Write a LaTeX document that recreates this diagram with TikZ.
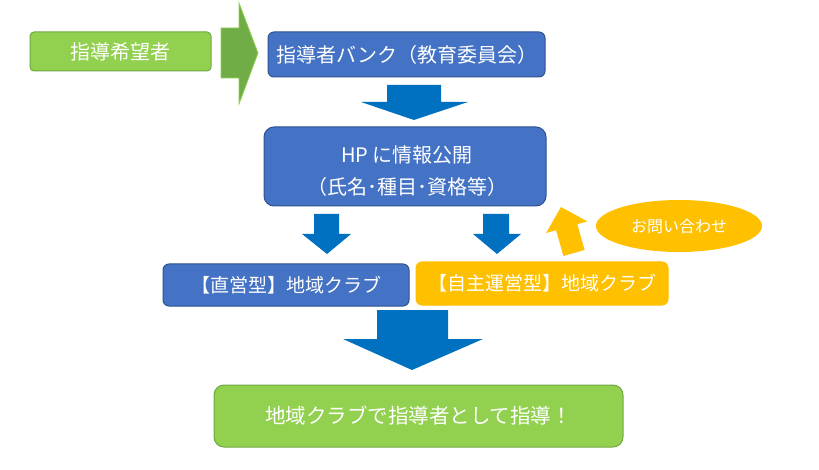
\documentclass[tikz,border=0pt]{standalone}
\usepackage{fontspec}
\newfontfamily\jp{Noto Sans CJK JP}
\usetikzlibrary{shapes.geometric}
\definecolor{bluebox}{HTML}{4472C4}
\definecolor{blueedge}{HTML}{2F528F}
\definecolor{bluearrow}{HTML}{0070C0}
\definecolor{greenbox}{HTML}{92D050}
\definecolor{greenedge}{HTML}{71A843}
\definecolor{greenarrow}{HTML}{70AD47}
\definecolor{orangebox}{HTML}{FFC000}
\begin{document}
\begin{tikzpicture}[x=1pt,y=-1pt,
  box/.style={rectangle, rounded corners=6pt, text=white, inner sep=0pt, line width=1pt,
    font=\jp\fontsize{20}{24}\selectfont},
  bluenode/.style={box, fill=bluebox, draw=blueedge},
  greennode/.style={box, fill=greenbox, draw=greenedge},
  orangenode/.style={box, fill=orangebox, draw=orangebox},
  clubfont/.style={font=\jp\fontsize{19}{22}\selectfont},
  barrow/.style={fill=bluearrow},
  garrow/.style={fill=greenarrow, draw=greenbox, line width=0.8pt},
  oarrow/.style={fill=orangebox},
]
\useasboundingbox (0,0) rectangle (819,470);

% boxes
\node[greennode, rounded corners=4pt, minimum width=181pt, minimum height=39pt] (wish) at (120.5,51.5) {指導希望者};
\node[bluenode, minimum width=277pt, minimum height=45pt] (bank) at (406.5,54.5) {指導者バンク（教育委員会）};
\node[bluenode, rounded corners=10pt, minimum width=282pt, minimum height=79pt] (hp) at (405,166.5) {};
\node[text=white, font=\jp\fontsize{20}{32}\selectfont, align=center, inner sep=0pt] (hptext) at (407,171) {HP に情報公開\\（氏名･種目･資格等）};
\node[bluenode, clubfont, minimum width=246pt, minimum height=42pt] (direct) at (286,285) {【直営型】地域クラブ};
\node[orangenode, clubfont, minimum width=252pt, minimum height=43pt] (auto) at (542,283.5) {【自主運営型】地域クラブ};
\node[ellipse, fill=orangebox, text=white, inner sep=0pt, minimum width=166pt, minimum height=52pt,
  font=\jp\fontsize{16}{19}\selectfont] (ask) at (679,226) {お問い合わせ};
\node[greennode, rounded corners=10pt, minimum width=409pt, minimum height=62pt,
  font=\jp\fontsize{20.5}{24}\selectfont] (goal) at (418.5,416) {地域クラブで指導者として指導！};

% block arrows
\draw[garrow] (221,28) -- (239,28) -- (239,3) -- (258,53) -- (239,104) -- (239,78) -- (221,78) -- cycle;
\fill[barrow] (387,85) -- (441,85) -- (441,102) -- (468,102) -- (414,120) -- (361,102) -- (387,102) -- cycle;
\fill[barrow] (314,214) -- (339,214) -- (339,234) -- (351,234) -- (327,254) -- (302,234) -- (314,234) -- cycle;
\fill[barrow] (483,214) -- (509,214) -- (509,234) -- (521,234) -- (497,254) -- (473,234) -- (483,234) -- cycle;
\fill[barrow] (377,310) -- (448,310) -- (448,339) -- (483,339) -- (412,370) -- (343,339) -- (377,339) -- cycle;
\fill[oarrow] (563.4,256.0) -- (584.6,250.0) -- (577.3,224.2) -- (587.3,221.4) -- (561.0,207.0) -- (546.1,233.0) -- (556.1,230.2) -- cycle;
\end{tikzpicture}
\end{document}
